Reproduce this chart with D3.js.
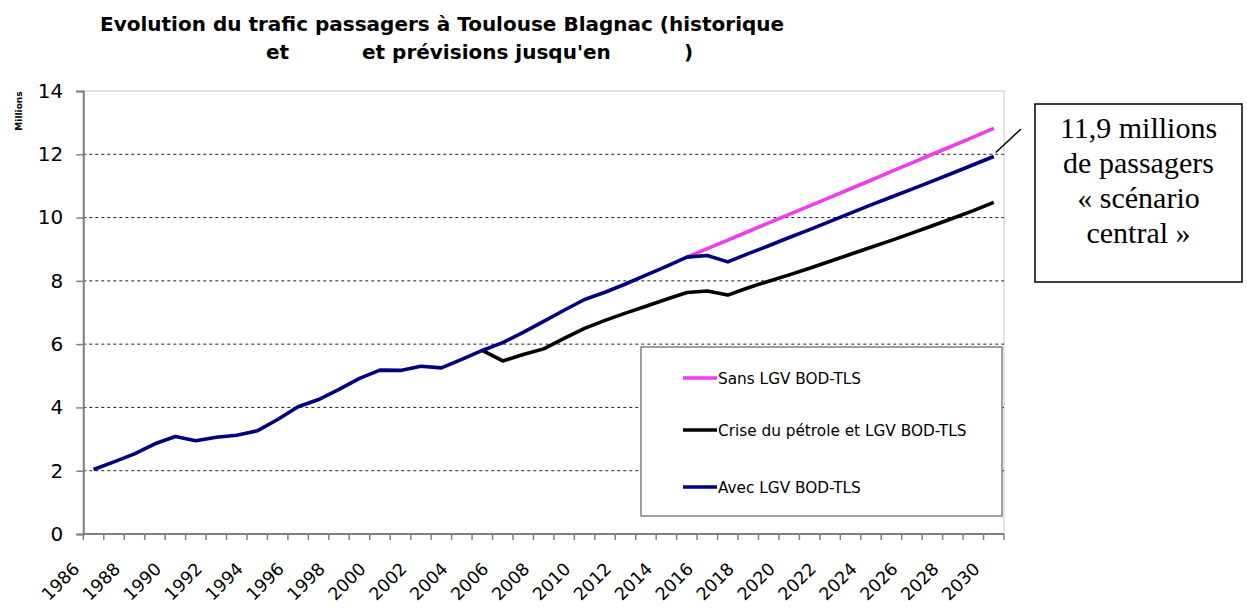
<!DOCTYPE html>
<html><head><meta charset="utf-8">
<script src="https://cdn.jsdelivr.net/npm/d3@7"></script>
<style>
body{margin:0;background:#fff;}
svg{display:block;}
</style></head>
<body>
<svg id="chart" width="1247" height="608"></svg>
<script>
const years = d3.range(1986, 2031);
const yTicks = [0, 2, 4, 6, 8, 10, 12, 14];
const seriesNames = ["Sans LGV BOD-TLS", "Crise du pétrole et LGV BOD-TLS", "Avec LGV BOD-TLS"];
const seriesColors = ["#ee3cee", "#000000", "#000080"];
// Avec LGV (historique 1986-2015 puis prévision)
const avecLGV = [2.04,2.28,2.53,2.85,3.08,2.95,3.06,3.12,3.26,3.62,4.02,4.25,4.57,4.92,5.18,5.17,5.30,5.25,5.52,5.80,
  6.05,6.37,6.72,7.07,7.41,7.64,7.90,8.18,8.46,8.75,8.80,8.60,8.86,9.11,9.37,9.62,9.88,10.14,10.40,10.65,10.90,11.15,11.41,11.67,11.93];
// Crise du pétrole, 2005-2030
const criseYears = d3.range(2005, 2031);
const criseLGV = [5.80,5.47,5.67,5.85,6.18,6.50,6.75,6.98,7.20,7.42,7.63,7.68,7.55,7.78,7.99,8.19,8.40,8.62,8.84,9.06,9.28,9.51,9.74,9.98,10.22,10.48];
// Sans LGV, 2015-2030
const sansYears = d3.range(2015, 2031);
const sansLGV = [8.75,9.02,9.29,9.56,9.83,10.10,10.37,10.64,10.91,11.18,11.46,11.73,12.00,12.27,12.54,12.82];
const annotationLines = ["11,9 millions", "de passagers", "« scénario", "central »"];

const svg = d3.select("#chart");
const L = 83.3, R = 1004, T = 91, B = 534;
const x = d3.scaleBand().domain(years).range([L, R]).padding(0);
const y = d3.scaleLinear().domain([0, 14]).range([B, T]);
const cx = yr => x(yr) + x.bandwidth() / 2;
const font = "'DejaVu Sans', Verdana, sans-serif";

// title
const title = svg.append("text").attr("font-family", font).attr("font-weight", "bold").attr("font-size", 20).attr("fill", "#000");
title.append("tspan").attr("x", 100).attr("y", 31).text("Evolution du trafic passagers à Toulouse Blagnac (historique");
title.append("tspan").attr("x", 266).attr("y", 59).text("et");
title.append("tspan").attr("x", 362).attr("y", 59).text("et prévisions jusqu'en");
title.append("tspan").attr("x", 684).attr("y", 59).text(")");

// plot border
svg.append("rect").attr("x", L).attr("y", T).attr("width", R - L).attr("height", B - T)
  .attr("fill", "none").attr("stroke", "#c8c8c8").attr("stroke-width", 1);

// gridlines
svg.append("g").selectAll("line").data(yTicks.filter(v => v > 0 && v < 14)).join("line")
  .attr("x1", L).attr("x2", R).attr("y1", d => y(d)).attr("y2", d => y(d))
  .attr("stroke", "#222").attr("stroke-width", 1).attr("stroke-dasharray", "3,3");

// y axis
const yAxis = svg.append("g").attr("transform", `translate(${L},0)`)
  .call(d3.axisLeft(y).tickValues(yTicks).tickSize(7).tickPadding(13));
yAxis.select(".domain").attr("stroke", "#808080").attr("stroke-width", 2);
yAxis.selectAll(".tick line").attr("stroke", "#808080").attr("stroke-width", 1.5);
yAxis.selectAll(".tick text").attr("font-family", font).attr("font-size", 20).attr("fill", "#000");

svg.append("text").attr("transform", "translate(22,111) rotate(-90)")
  .attr("text-anchor", "middle").attr("font-family", font).attr("font-weight", "bold")
  .attr("font-size", 9).text("Millions");

// x axis
svg.append("line").attr("x1", L).attr("x2", R).attr("y1", B).attr("y2", B)
  .attr("stroke", "#808080").attr("stroke-width", 2);
const bounds = years.map(v => x(v)).concat([R]);
svg.append("g").selectAll("line").data(bounds).join("line")
  .attr("x1", d => d).attr("x2", d => d).attr("y1", B).attr("y2", B + 6)
  .attr("stroke", "#808080").attr("stroke-width", 1.5);
svg.append("g").selectAll("text").data(years.filter((v, i) => i % 2 === 0)).join("text")
  .attr("transform", d => `translate(${cx(d) - 13},570) rotate(-45)`)
  .attr("text-anchor", "end").attr("font-family", font).attr("font-size", 17.5).attr("fill", "#000")
  .text(d => d);

// lines
const line = d3.line().x(d => cx(d[0])).y(d => y(d[1]));
const drawSeries = (yrs, vals, color) => svg.append("path")
  .datum(yrs.map((v, i) => [v, vals[i]]))
  .attr("d", line).attr("fill", "none").attr("stroke", color)
  .attr("stroke-width", 3.6).attr("stroke-linejoin", "round");
drawSeries(criseYears, criseLGV, seriesColors[1]);
drawSeries(sansYears, sansLGV, seriesColors[0]);
drawSeries(years, avecLGV, seriesColors[2]);

// legend
const lg = svg.append("g");
lg.append("rect").attr("x", 641).attr("y", 347).attr("width", 361).attr("height", 169)
  .attr("fill", "#fff").attr("stroke", "#808080").attr("stroke-width", 1.5);
const legY = [378, 430, 487];
seriesNames.forEach((n, i) => {
  lg.append("line").attr("x1", 683).attr("x2", 717).attr("y1", legY[i]).attr("y2", legY[i])
    .attr("stroke", seriesColors[i]).attr("stroke-width", 3.5);
  lg.append("text").attr("x", 718).attr("y", legY[i]).attr("dy", "0.36em").attr("font-family", font)
    .attr("font-size", 15.3).attr("fill", "#000").text(n);
});

// annotation
svg.append("line").attr("x1", cx(2030) + 2).attr("y1", y(avecLGV[avecLGV.length - 1]) - 4)
  .attr("x2", 1021).attr("y2", 129).attr("stroke", "#000").attr("stroke-width", 1.5);
svg.append("rect").attr("x", 1035).attr("y", 104).attr("width", 207).attr("height", 178)
  .attr("fill", "#fff").attr("stroke", "#000").attr("stroke-width", 1.5);
svg.append("g").selectAll("text").data(annotationLines).join("text")
  .attr("x", 1138.5).attr("y", (d, i) => 138 + i * 35).attr("text-anchor", "middle")
  .attr("font-family", "'Liberation Serif', 'Times New Roman', serif").attr("font-size", 30)
  .attr("fill", "#000").text(d => d);
</script>
</body></html>
